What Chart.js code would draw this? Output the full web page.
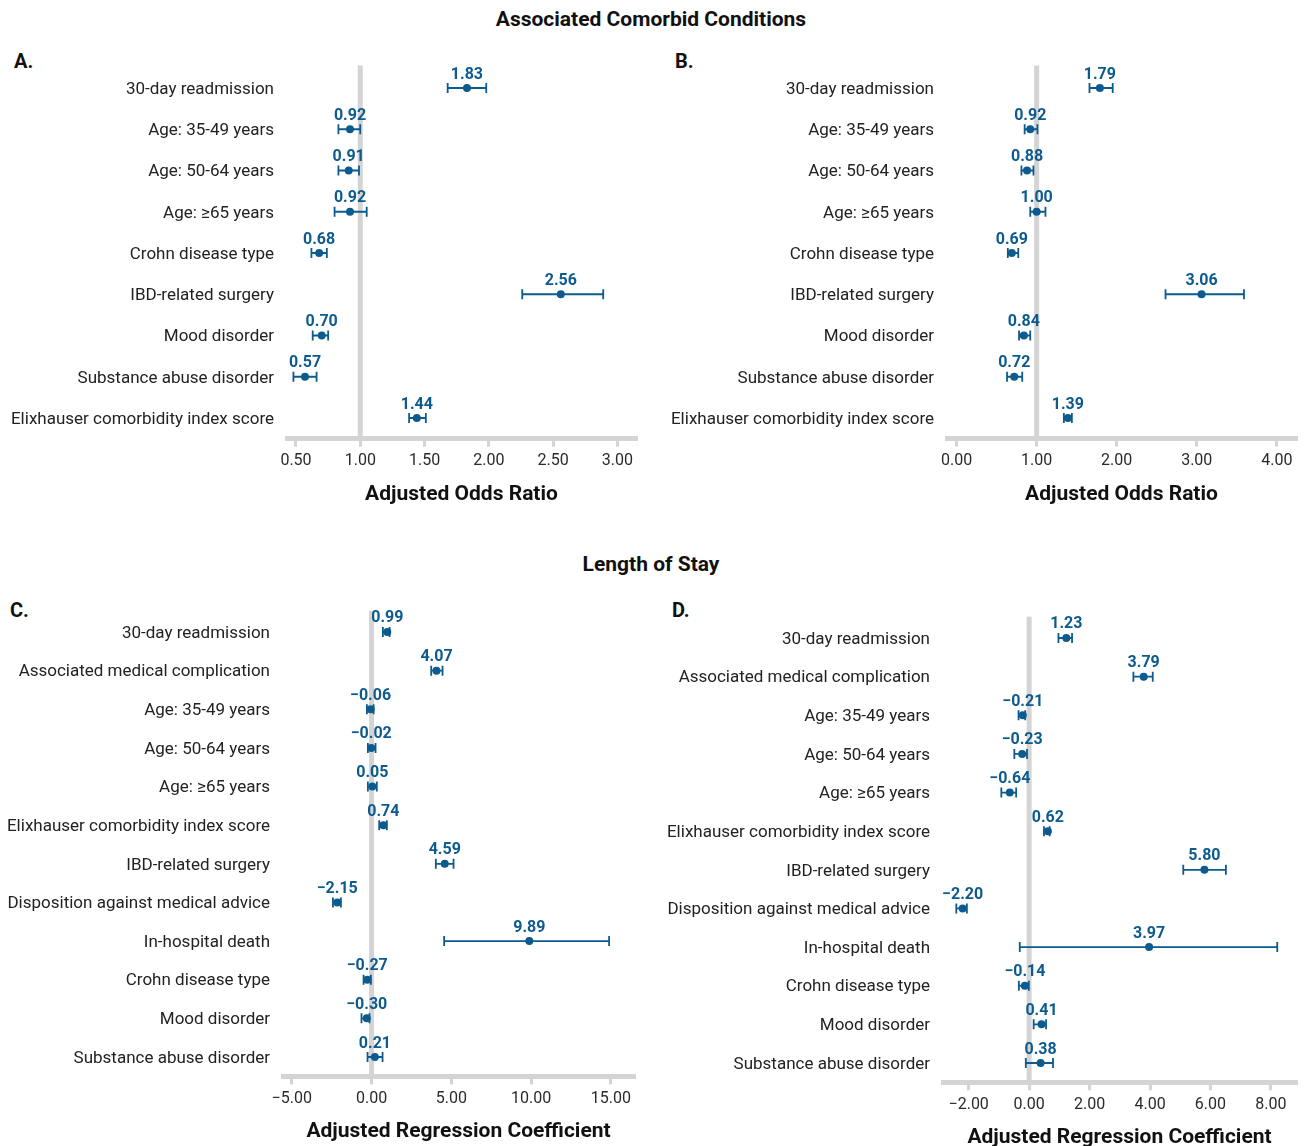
<!DOCTYPE html>
<html>
<head>
<meta charset="utf-8">
<script src="https://cdn.jsdelivr.net/npm/chart.js@4"></script>
<style>
  html, body { margin:0; padding:0; background:#fff; overflow:hidden; }
  #wrap { position:relative; width:1305px; height:1146px; background:#fff; overflow:hidden; font-family: Roboto, "Noto Sans", sans-serif; }
  .h { position:absolute; font-weight:bold; font-size:21px; color:#111; white-space:nowrap; transform:translate(-50%,-50%); }
  .p { position:absolute; font-weight:bold; font-size:20px; color:#111; transform:translateY(-50%); }
  canvas { position:absolute; }
</style>
</head>
<body>
<div id="wrap">
  <div class="h" style="left:651px;top:19px;">Associated Comorbid Conditions</div>
  <div class="h" style="left:651px;top:564px;">Length of Stay</div>
  <div class="p" style="left:14px;top:61px;">A.</div>
  <div class="p" style="left:675px;top:61px;">B.</div>
  <div class="p" style="left:10px;top:610px;">C.</div>
  <div class="p" style="left:672px;top:610px;">D.</div>
  <canvas id="cA" width="650" height="480" style="left:0px;top:40px;"></canvas>
  <canvas id="cB" width="655" height="480" style="left:650px;top:40px;"></canvas>
  <canvas id="cC" width="650" height="560" style="left:0px;top:586px;"></canvas>
  <canvas id="cD" width="655" height="564" style="left:650px;top:586px;"></canvas>
</div>
<script>
// ---------- DATA ----------
const comorbLabels = ['30-day readmission','Age: 35-49 years','Age: 50-64 years','Age: \u226565 years','Crohn disease type','IBD-related surgery','Mood disorder','Substance abuse disorder','Elixhauser comorbidity index score'];
const panelA_values = [1.83, 0.92, 0.91, 0.92, 0.68, 2.56, 0.70, 0.57, 1.44];
const panelA_lower  = [1.68, 0.83, 0.83, 0.80, 0.62, 2.26, 0.63, 0.48, 1.38];
const panelA_upper  = [1.98, 1.00, 0.99, 1.05, 0.74, 2.89, 0.75, 0.66, 1.51];
const panelA_ticks  = [0.5, 1, 1.5, 2, 2.5, 3];

const panelB_values = [1.79, 0.92, 0.88, 1.00, 0.69, 3.06, 0.84, 0.72, 1.39];
const panelB_lower  = [1.66, 0.85, 0.81, 0.92, 0.64, 2.61, 0.78, 0.63, 1.34];
const panelB_upper  = [1.95, 1.01, 0.96, 1.11, 0.77, 3.59, 0.92, 0.82, 1.44];
const panelB_ticks  = [0, 1, 2, 3, 4];

const losLabels = ['30-day readmission','Associated medical complication','Age: 35-49 years','Age: 50-64 years','Age: \u226565 years','Elixhauser comorbidity index score','IBD-related surgery','Disposition against medical advice','In-hospital death','Crohn disease type','Mood disorder','Substance abuse disorder'];
const panelC_values = [0.99, 4.07, -0.06, -0.02, 0.05, 0.74, 4.59, -2.15, 9.89, -0.27, -0.30, 0.21];
const panelC_lower  = [0.71, 3.74, -0.29, -0.23, -0.23, 0.48, 4.03, -2.42, 4.55, -0.50, -0.63, -0.25];
const panelC_upper  = [1.13, 4.45, 0.13, 0.25, 0.33, 0.96, 5.14, -1.92, 14.89, -0.04, -0.13, 0.69];
const panelC_ticks  = [-5, 0, 5, 10, 15];

const panelD_values = [1.23, 3.79, -0.21, -0.23, -0.64, 0.62, 5.80, -2.20, 3.97, -0.14, 0.41, 0.38];
const panelD_lower  = [0.97, 3.45, -0.35, -0.49, -0.92, 0.49, 5.10, -2.41, -0.31, -0.34, 0.15, -0.11];
const panelD_upper  = [1.42, 4.09, -0.13, -0.07, -0.43, 0.68, 6.51, -2.06, 8.21, -0.01, 0.56, 0.79];
const panelD_ticks  = [-2, 0, 2, 4, 6, 8];

// ---------- STYLE ----------
const BLUE = '#0d5b8e';
const GRAY = '#d4d4d4';
const FONT = 'Roboto, "Noto Sans", sans-serif';

function fmt(v) {
  const s = Math.abs(v).toFixed(2);
  return v < 0 ? '\u2212' + s : s;
}

const forestPlugin = {
  id: 'forest',
  beforeDatasetsDraw(chart, args, opts) {
    const {ctx, chartArea} = chart;
    const xs = chart.scales.x, ys = chart.scales.y;
    const rx = xs.getPixelForValue(opts.refValue);
    ctx.save();
    ctx.strokeStyle = GRAY;
    ctx.lineWidth = 5;
    ctx.beginPath();
    ctx.moveTo(rx, chartArea.top - 2);
    ctx.lineTo(rx, chartArea.bottom);
    ctx.stroke();
    ctx.strokeStyle = BLUE;
    ctx.lineWidth = 1.8;
    opts.lower.forEach((lo, i) => {
      const y = ys.getPixelForValue(i);
      const x1 = xs.getPixelForValue(lo), x2 = xs.getPixelForValue(opts.upper[i]);
      ctx.beginPath();
      ctx.moveTo(x1, y); ctx.lineTo(x2, y);
      ctx.moveTo(x1, y - 5); ctx.lineTo(x1, y + 5);
      ctx.moveTo(x2, y - 5); ctx.lineTo(x2, y + 5);
      ctx.stroke();
    });
    ctx.restore();
  },
  afterDatasetsDraw(chart, args, opts) {
    const {ctx} = chart;
    const xs = chart.scales.x, ys = chart.scales.y;
    ctx.save();
    ctx.fillStyle = BLUE;
    ctx.font = 'bold 16px ' + FONT;
    ctx.textAlign = 'center';
    ctx.textBaseline = 'middle';
    opts.values.forEach((v, i) => {
      ctx.fillText(fmt(v), xs.getPixelForValue(v), ys.getPixelForValue(i) - 13.5);
    });
    ctx.restore();
  }
};

function makePanel(id, canvasLeft, canvasTop, cw, ch, plot, labels, values, lower, upper, ticks, refValue, title) {
  const padTop = plot.top - canvasTop;
  const padRight = canvasLeft + cw - plot.right;
  const yWidth = plot.left - canvasLeft;
  const xHeight = canvasTop + ch - plot.bottom;
  new Chart(document.getElementById(id), {
    type: 'scatter',
    data: {
      datasets: [{
        data: values.map((v, i) => ({x: v, y: labels[i]})),
        backgroundColor: BLUE,
        borderColor: BLUE,
        pointRadius: 4,
        pointHoverRadius: 4,
        borderWidth: 0
      }]
    },
    options: {
      responsive: false,
      animation: false,
      events: [],
      layout: { padding: { top: padTop, right: padRight, left: 0, bottom: 0 } },
      plugins: {
        legend: { display: false },
        tooltip: { enabled: false },
        forest: { refValue, lower, upper, values }
      },
      scales: {
        x: {
          type: 'linear',
          min: plot.min, max: plot.max,
          afterBuildTicks: (s) => { s.ticks = ticks.map(v => ({value: v})); },
          afterFit: (s) => { s.height = xHeight; },
          grid: { display: true, drawOnChartArea: false, drawTicks: true, tickLength: 8, color: GRAY, lineWidth: 3 },
          border: { display: true, color: GRAY, width: 5 },
          ticks: {
            color: '#2a2a2a', padding: 5,
            font: { family: FONT, size: 16 },
            callback: (v) => fmt(v),
            maxRotation: 0, autoSkip: false
          },
          title: {
            display: true, text: title, color: '#111',
            font: { family: FONT, size: 21, weight: 'bold' },
            padding: { top: 0, bottom: plot.titlePad }
          }
        },
        y: {
          type: 'category',
          labels: labels,
          offset: true,
          afterFit: (s) => { s.width = yWidth; },
          grid: { display: false },
          border: { display: false },
          ticks: {
            color: '#222', padding: 5, autoSkip: false, labelOffset: 1.5,
            font: { family: FONT, size: 17 }
          }
        }
      }
    },
    plugins: [forestPlugin]
  });
}

const rowA = 41.25, rowC = 38.64;
makePanel('cA', 0, 40, 650, 480,
  {left: 287, right: 636, top: 88 - rowA/2, bottom: 418 + rowA/2, min: 0.43, max: 3.145, titlePad: 13},
  comorbLabels, panelA_values, panelA_lower, panelA_upper, panelA_ticks, 1, 'Adjusted Odds Ratio');
makePanel('cB', 650, 40, 655, 480,
  {left: 947, right: 1296, top: 88 - rowA/2, bottom: 418 + rowA/2, min: -0.12, max: 4.24, titlePad: 13},
  comorbLabels, panelB_values, panelB_lower, panelB_upper, panelB_ticks, 1, 'Adjusted Odds Ratio');
makePanel('cC', 0, 586, 650, 560,
  {left: 283, right: 634, top: 632 - rowC/2, bottom: 1057 + rowC/2, min: -5.55, max: 16.45, titlePad: 2},
  losLabels, panelC_values, panelC_lower, panelC_upper, panelC_ticks, 0, 'Adjusted Regression Coefficient');
makePanel('cD', 650, 586, 655, 564,
  {left: 943, right: 1296, top: 638 - rowC/2, bottom: 1063 + rowC/2, min: -2.85, max: 8.83, titlePad: 0},
  losLabels, panelD_values, panelD_lower, panelD_upper, panelD_ticks, 0, 'Adjusted Regression Coefficient');
</script>
</body>
</html>
